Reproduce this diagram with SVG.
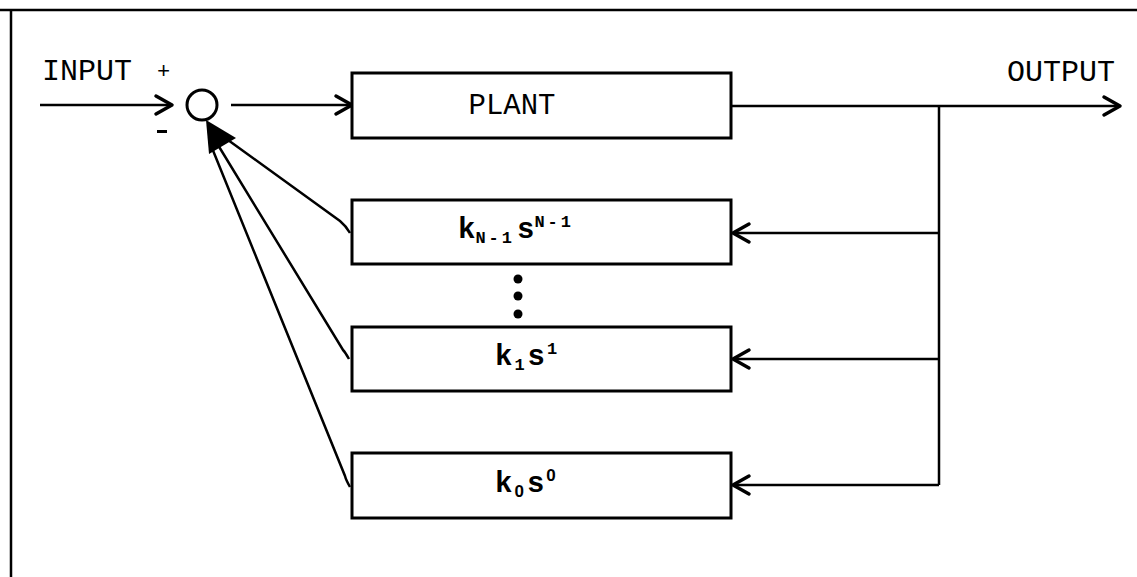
<svg xmlns="http://www.w3.org/2000/svg" width="1137" height="577" viewBox="0 0 1137 577">
<style>
.ln{stroke:#000;stroke-width:2.5;fill:none}
.box{stroke:#000;stroke-width:3;fill:#fff}
.lbl{font-family:"Liberation Mono","Courier New",monospace;font-size:30px;fill:#000}
.k{font-family:"Liberation Mono","Courier New",monospace;font-size:29px;font-weight:bold;fill:#000}
.sm{font-size:17px;letter-spacing:3px}
.z{font-family:"Liberation Sans",Arial,sans-serif;font-weight:bold}
</style>
<defs>
<marker id="chev" markerUnits="userSpaceOnUse" markerWidth="24" markerHeight="24" viewBox="-20 -12 24 24" refX="0" refY="0" orient="auto">
<path d="M-16,-9 L0,0 L-16,9" stroke="#000" stroke-width="3.5" fill="none" stroke-linecap="round" stroke-linejoin="round"/>
</marker>
</defs>
<rect width="1137" height="577" fill="#fff"/>
<g id="frame">
<line x1="0" y1="10" x2="1137" y2="10" class="ln"/>
<line x1="11" y1="10" x2="11" y2="577" class="ln"/>
</g>
<g id="connectors">
<line x1="40" y1="105" x2="172" y2="105" class="ln" marker-end="url(#chev)"/>
<line x1="231" y1="105" x2="352" y2="105" class="ln" marker-end="url(#chev)"/>
<line x1="731" y1="106" x2="1120" y2="106" class="ln" marker-end="url(#chev)"/>
<line x1="939" y1="106" x2="939" y2="485" class="ln"/>
<line x1="939" y1="233" x2="733" y2="233" class="ln" marker-end="url(#chev)"/>
<line x1="939" y1="359" x2="733" y2="359" class="ln" marker-end="url(#chev)"/>
<line x1="939" y1="485" x2="733" y2="485" class="ln" marker-end="url(#chev)"/>
<path d="M350,233 Q346,226 340,221 L228,140" class="ln"/>
<path d="M349,359 Q345,352 343,350 L218,145" class="ln"/>
<path d="M350,487 Q346,480 345,476 L212,148" class="ln"/>
<polygon points="206,120 209,154 236,138" fill="#000"/>
</g>
<g id="sum">
<circle cx="202" cy="105" r="15" class="box"/>
<text x="157" y="78" style="font-family:'Liberation Mono',monospace;font-size:22px">+</text>
<rect x="157" y="130" width="10" height="3" fill="#000"/>
</g>
<g id="input-label">
<text x="42" y="80" class="lbl">INPUT</text>
</g>
<g id="output-label">
<text x="1007" y="81" class="lbl">OUTPUT</text>
</g>
<g id="plant">
<rect x="352" y="73" width="379" height="65" class="box"/>
<text x="512" y="114" class="lbl" text-anchor="middle" style="font-size:29px">PLANT</text>
</g>
<g id="kN1">
<rect x="352" y="200" width="379" height="64" class="box"/>
<text x="458" y="238" class="k">k<tspan class="sm" dy="5">N-1</tspan><tspan dy="-5" dx="2">s</tspan><tspan class="sm" dy="-11">N-1</tspan></text>
</g>
<g id="dots">
<circle cx="518" cy="279" r="4.5" fill="#000"/>
<circle cx="518" cy="296" r="4.5" fill="#000"/>
<circle cx="518" cy="314" r="4.5" fill="#000"/>
</g>
<g id="k1">
<rect x="352" y="327" width="379" height="64" class="box"/>
<text x="495" y="365" class="k" letter-spacing="2">k<tspan class="sm" dy="5">1</tspan><tspan dy="-5">s</tspan><tspan class="sm" dy="-11">1</tspan></text>
</g>
<g id="k0">
<rect x="352" y="453" width="379" height="65" class="box"/>
<text x="495" y="492" class="k" letter-spacing="2">k<tspan class="sm z" dy="5">0</tspan><tspan dy="-5">s</tspan><tspan class="sm z" dy="-11">0</tspan></text>
</g>
</svg>
